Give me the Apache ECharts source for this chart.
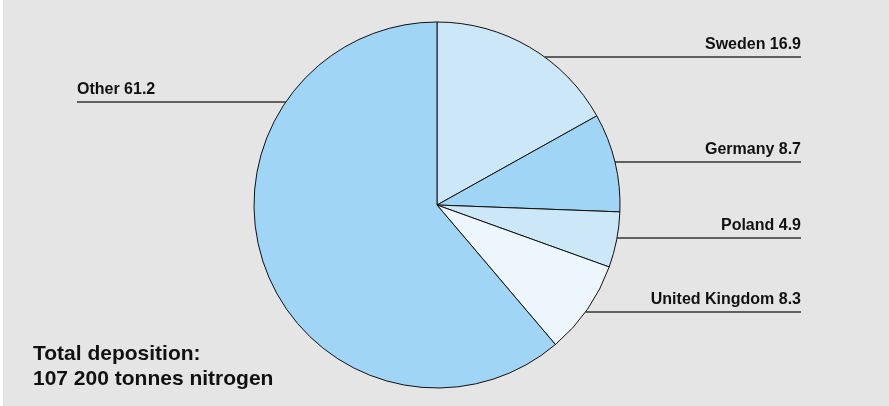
<!DOCTYPE html>
<html>
<head>
<meta charset="utf-8">
<script src="https://cdn.jsdelivr.net/npm/echarts@6/dist/echarts.min.js"></script>
<style>
html,body{margin:0;padding:0;background:#ffffff;}
#chart{position:absolute;left:3px;top:0;width:886px;height:406px;}
</style>
</head>
<body>
<div id="chart"></div>
<script>
// Data
const categories = ['Sweden', 'Germany', 'Poland', 'United Kingdom', 'Other'];
const values = [16.9, 8.7, 4.9, 8.3, 61.2];
const sliceColors = ['#cce7f8', '#a0d5f5', '#cce7f8', '#eef6fd', '#a0d5f5'];
const noteLines = ['Total deposition:', '107 200 tonnes nitrogen'];

// Layout
const CX = 434, CY = 205, R = 183;
const lineY = [57, 162, 238, 312, 102];
const leftSide = [false, false, false, false, true];
const rightEnd = 798, leftEnd = 74;

const chart = echarts.init(document.getElementById('chart'), null, {renderer: 'canvas'});
chart.setOption({
  backgroundColor: '#e5e5e5',
  animation: false,
  graphic: [{
    type: 'text',
    left: 30,
    top: 342,
    style: {
      text: noteLines.join('\n'),
      font: 'bold 21px "Liberation Sans", Arial, sans-serif',
      lineHeight: 25,
      fill: '#111'
    }
  }],
  series: [{
    type: 'pie',
    center: [CX, CY],
    radius: [0, R],
    startAngle: 90,
    clockwise: true,
    avoidLabelOverlap: false,
    data: categories.map((c, i) => ({
      name: c,
      value: values[i],
      itemStyle: {color: sliceColors[i]}
    })),
    itemStyle: {borderColor: '#111', borderWidth: 1},
    emphasis: {disabled: true},
    label: {
      show: true,
      formatter: p => p.name + ' ' + p.value.toFixed(1),
      fontFamily: '"Liberation Sans Narrow", "Arial Narrow", "Liberation Sans", sans-serif',
      fontWeight: 'bold',
      fontSize: 16,
      color: '#111'
    },
    labelLine: {
      show: true,
      lineStyle: {color: '#333', width: 1.5}
    },
    labelLayout: function (p) {
      const i = p.dataIndex;
      const y = lineY[i];
      const dx = Math.sqrt(R * R - (y - CY) * (y - CY));
      const left = leftSide[i];
      const edgeX = left ? CX - dx : CX + dx;
      const endX = left ? leftEnd : rightEnd;
      return {
        x: endX,
        y: y - 4,
        align: left ? 'left' : 'right',
        verticalAlign: 'bottom',
        labelLinePoints: [[edgeX, y], [edgeX, y], [endX, y]]
      };
    }
  }]
});
</script>
</body>
</html>
